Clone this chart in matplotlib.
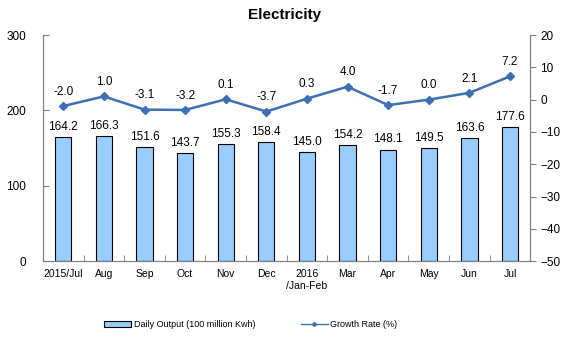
import matplotlib
matplotlib.use("Agg")
import matplotlib.pyplot as plt
from matplotlib.lines import Line2D
from matplotlib.patches import Patch

plt.rcParams['font.family'] = ['Liberation Sans', 'DejaVu Sans']

categories = ["2015/Jul", "Aug", "Sep", "Oct", "Nov", "Dec", "2016\n/Jan-Feb",
              "Mar", "Apr", "May", "Jun", "Jul"]
daily_output = [164.2, 166.3, 151.6, 143.7, 155.3, 158.4, 145.0, 154.2, 148.1, 149.5, 163.6, 177.6]
growth_rate = [-2.0, 1.0, -3.1, -3.2, 0.1, -3.7, 0.3, 4.0, -1.7, 0.0, 2.1, 7.2]
left_ticks = [0, 100, 200, 300]
right_ticks = [-50, -40, -30, -20, -10, 0, 10, 20]

bar_color = "#99CCFF"
line_color = "#3E6EB4"
axis_gray = "#808080"

fig = plt.figure(figsize=(5.7, 3.4), dpi=100)
ax = fig.add_axes([0.0754, 0.232, 0.855, 0.665])
ax2 = ax.twinx()

x = list(range(len(categories)))
ax.bar(x, daily_output, width=0.4, color=bar_color, edgecolor="black", linewidth=0.8, zorder=2)
for xi, v in zip(x, daily_output):
    ax.annotate(f"{v:.1f}", (xi, v), xytext=(0, 3), textcoords="offset points",
                ha="center", va="bottom", fontsize=8.5)

ax.set_xlim(-0.5, len(categories) - 0.5)
ax.set_ylim(0, 300)
ax.set_yticks(left_ticks)
ax.set_xticks(x)
ax.set_xticklabels(categories, fontsize=7.5)
ax.tick_params(axis="x", length=0, pad=6)
ax.set_xticks([i + 0.5 for i in range(-1, len(categories))], minor=True)
ax.tick_params(axis="x", which="minor", length=4, color=axis_gray, direction="in")
ax.tick_params(axis="y", labelsize=8.5, length=4, color=axis_gray, direction="in", pad=12)

ax2.plot(x, growth_rate, color=line_color, marker="D", markersize=4, linewidth=1.8, zorder=3)
for xi, v in zip(x, growth_rate):
    ax2.annotate(f"{v:.1f}", (xi, v), xytext=(0, 6), textcoords="offset points",
                 ha="center", va="bottom", fontsize=8.5)
ax2.set_ylim(-50, 20)
ax2.set_yticks(right_ticks)
ax2.tick_params(axis="y", labelsize=8.5, length=4, color=axis_gray, direction="out", pad=3)

for a in (ax, ax2):
    a.spines["top"].set_visible(False)
    for s in ("left", "right", "bottom"):
        a.spines[s].set_color(axis_gray)
        a.spines[s].set_linewidth(0.8)

fig.text(0.5, 0.955, "Electricity", ha="center", va="center", fontsize=11, fontweight="bold")

handles = [Patch(facecolor=bar_color, edgecolor="black", linewidth=0.8),
           Line2D([0], [0], color=line_color, marker="D", markersize=2, linewidth=1)]
labels = ["Daily Output (100 million Kwh)", "Growth Rate (%)"]
fig.legend(handles, labels, loc="center", bbox_to_anchor=(0.44, 0.045), ncol=2,
           frameon=False, fontsize=6.5, columnspacing=5, handlelength=3, handletextpad=0.3)

fig.savefig("out.png", dpi=100)
